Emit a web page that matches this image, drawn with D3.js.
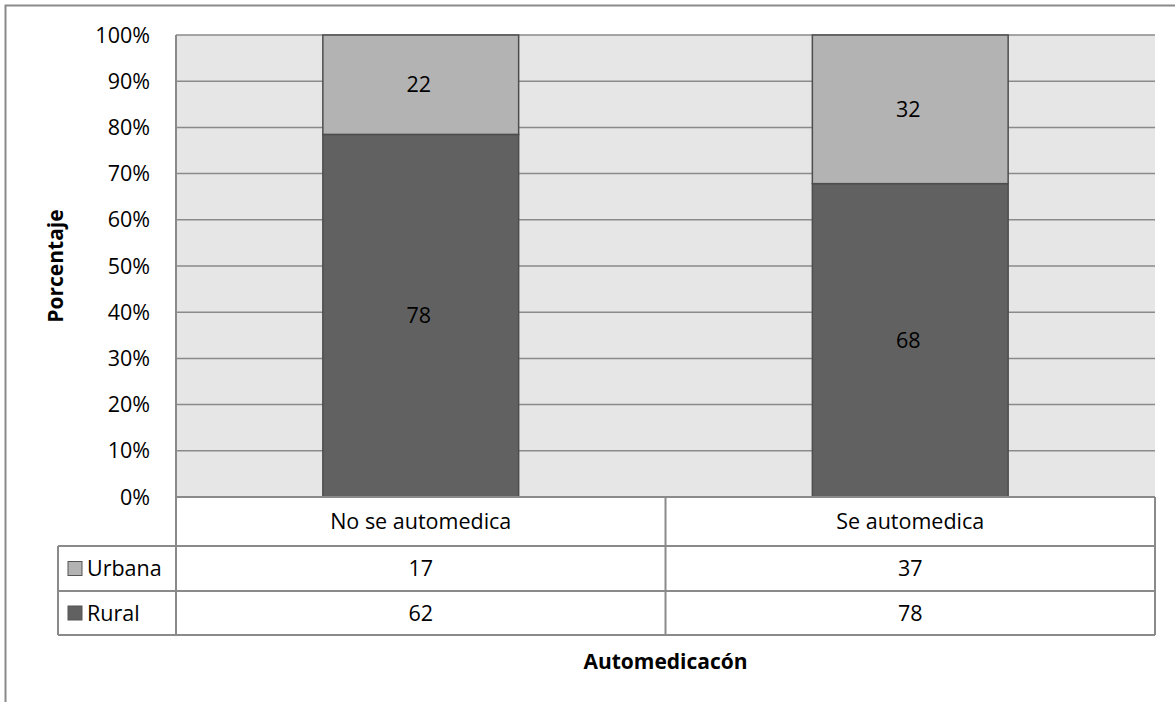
<!DOCTYPE html>
<html><head><meta charset="utf-8">
<script src="https://cdn.jsdelivr.net/npm/d3@7"></script>
<style>body{margin:0;background:#fff}svg{display:block}text{font-family:"Open Sans","Noto Sans",sans-serif}</style>
</head><body>
<svg id="c" width="1175" height="702"></svg>
<script>
const categories = ["No se automedica", "Se automedica"];
const seriesNames = ["Rural", "Urbana"];
const rural = [62, 78];
const urbana = [17, 37];
const yTicks = [0,10,20,30,40,50,60,70,80,90,100];
const colors = {Rural: "#616161", Urbana: "#b3b3b3"};

const svg = d3.select("#c");
const L = 176, R = 1155, T = 35, B = 497;
const FS = 21.5;
const x = d3.scaleBand().domain(categories).range([L, R]).paddingInner(0).paddingOuter(0);
const y = d3.scaleLinear().domain([0, 100]).range([B, T]);
const lineC = "#8a8a8a";

// outer frame
svg.append("path").attr("d", `M5.5,702 L5.5,5.5 L1175,5.5`).attr("fill","none").attr("stroke",lineC).attr("stroke-width",2);

// plot background
svg.append("rect").attr("x",L).attr("y",T).attr("width",R-L).attr("height",B-T).attr("fill","#e6e6e6");

// gridlines
svg.append("g").selectAll("line").data(yTicks).join("line")
  .attr("x1",L).attr("x2",R).attr("y1",d=>y(d)).attr("y2",d=>y(d))
  .attr("stroke",lineC).attr("stroke-width",1.5);
svg.append("line").attr("x1",L).attr("x2",L).attr("y1",T).attr("y2",B).attr("stroke",lineC).attr("stroke-width",2);

// stacked data (percent)
const rows = categories.map((c,i)=>({cat:c, Rural:rural[i], Urbana:urbana[i], total:rural[i]+urbana[i]}));
const pct = rows.map(r=>({cat:r.cat, Rural:100*r.Rural/r.total, Urbana:100*r.Urbana/r.total}));
const stack = d3.stack().keys(seriesNames)(pct);
const barW = x.bandwidth()*0.4;
const g = svg.append("g");
stack.forEach(s=>{
  g.selectAll(null).data(s).join("rect")
    .attr("x",d=>x(d.data.cat)+x.bandwidth()/2-barW/2)
    .attr("width",barW)
    .attr("y",d=>y(d[1])).attr("height",d=>y(d[0])-y(d[1]))
    .attr("fill",colors[s.key]).attr("stroke","#4d4d4d").attr("stroke-width",1.5);
  g.selectAll(null).data(s).join("text")
    .attr("x",d=>x(d.data.cat)+x.bandwidth()/2-2)
    .attr("y",d=>(y(d[0])+y(d[1]))/2)
    .attr("dy","0.35em").attr("text-anchor","middle").attr("font-size",FS).attr("fill","#000")
    .text(d=>Math.round(d[1]-d[0]));
});

// y axis labels
svg.append("g").selectAll("text").data(yTicks).join("text")
  .attr("x",150).attr("y",d=>y(d)).attr("dy","0.35em").attr("text-anchor","end")
  .attr("font-size",FS).text(d=>d+"%");

// y title
svg.append("text").attr("transform",`translate(63,${(T+B)/2}) rotate(-90)`)
  .attr("text-anchor","middle").attr("font-size",21).attr("font-weight","bold").text("Porcentaje");

// data table
const rowTops = [B, 546, 591, 635];
const legL = 58;
const tb = svg.append("g");
tb.append("rect").attr("x",L).attr("y",B).attr("width",R-L).attr("height",rowTops[3]-B).attr("fill","#fff");
tb.append("line").attr("x1",L).attr("x2",R).attr("y1",B).attr("y2",B).attr("stroke",lineC).attr("stroke-width",2);
[1,2,3].forEach(i=>tb.append("line").attr("x1",legL).attr("x2",R).attr("y1",rowTops[i]).attr("y2",rowTops[i]).attr("stroke",lineC).attr("stroke-width",2));
tb.append("line").attr("x1",legL).attr("x2",legL).attr("y1",rowTops[1]).attr("y2",rowTops[3]).attr("stroke",lineC).attr("stroke-width",2);
tb.append("line").attr("x1",L).attr("x2",L).attr("y1",B).attr("y2",rowTops[3]).attr("stroke",lineC).attr("stroke-width",2);
categories.forEach(c=>{
  tb.append("line").attr("x1",x(c)+x.bandwidth()).attr("x2",x(c)+x.bandwidth()).attr("y1",B).attr("y2",rowTops[3]).attr("stroke",lineC).attr("stroke-width",2);
});
tb.selectAll("text.cat").data(categories).join("text").attr("class","cat")
  .attr("x",d=>x(d)+x.bandwidth()/2).attr("y",(rowTops[0]+rowTops[1])/2).attr("dy","0.35em")
  .attr("text-anchor","middle").attr("font-size",FS).text(d=>d);
const tableRows = [["Urbana", urbana], ["Rural", rural]];
tableRows.forEach(([name, vals], ri)=>{
  const yc = (rowTops[ri+1]+rowTops[ri+2])/2;
  tb.append("rect").attr("x",68).attr("y",yc-7).attr("width",14).attr("height",14)
    .attr("fill",colors[name]).attr("stroke","#555").attr("stroke-width",1);
  tb.append("text").attr("x",87).attr("y",yc).attr("dy","0.35em").attr("font-size",FS).text(name);
  tb.selectAll(null).data(vals).join("text")
    .attr("x",(d,i)=>x(categories[i])+x.bandwidth()/2).attr("y",yc).attr("dy","0.35em")
    .attr("text-anchor","middle").attr("font-size",FS).text(d=>d);
});

// x title
svg.append("text").attr("x",(L+R)/2).attr("y",662).attr("dy","0.35em").attr("text-anchor","middle")
  .attr("font-size",21).attr("font-weight","bold").text("Automedicacón");
</script>
</body></html>
